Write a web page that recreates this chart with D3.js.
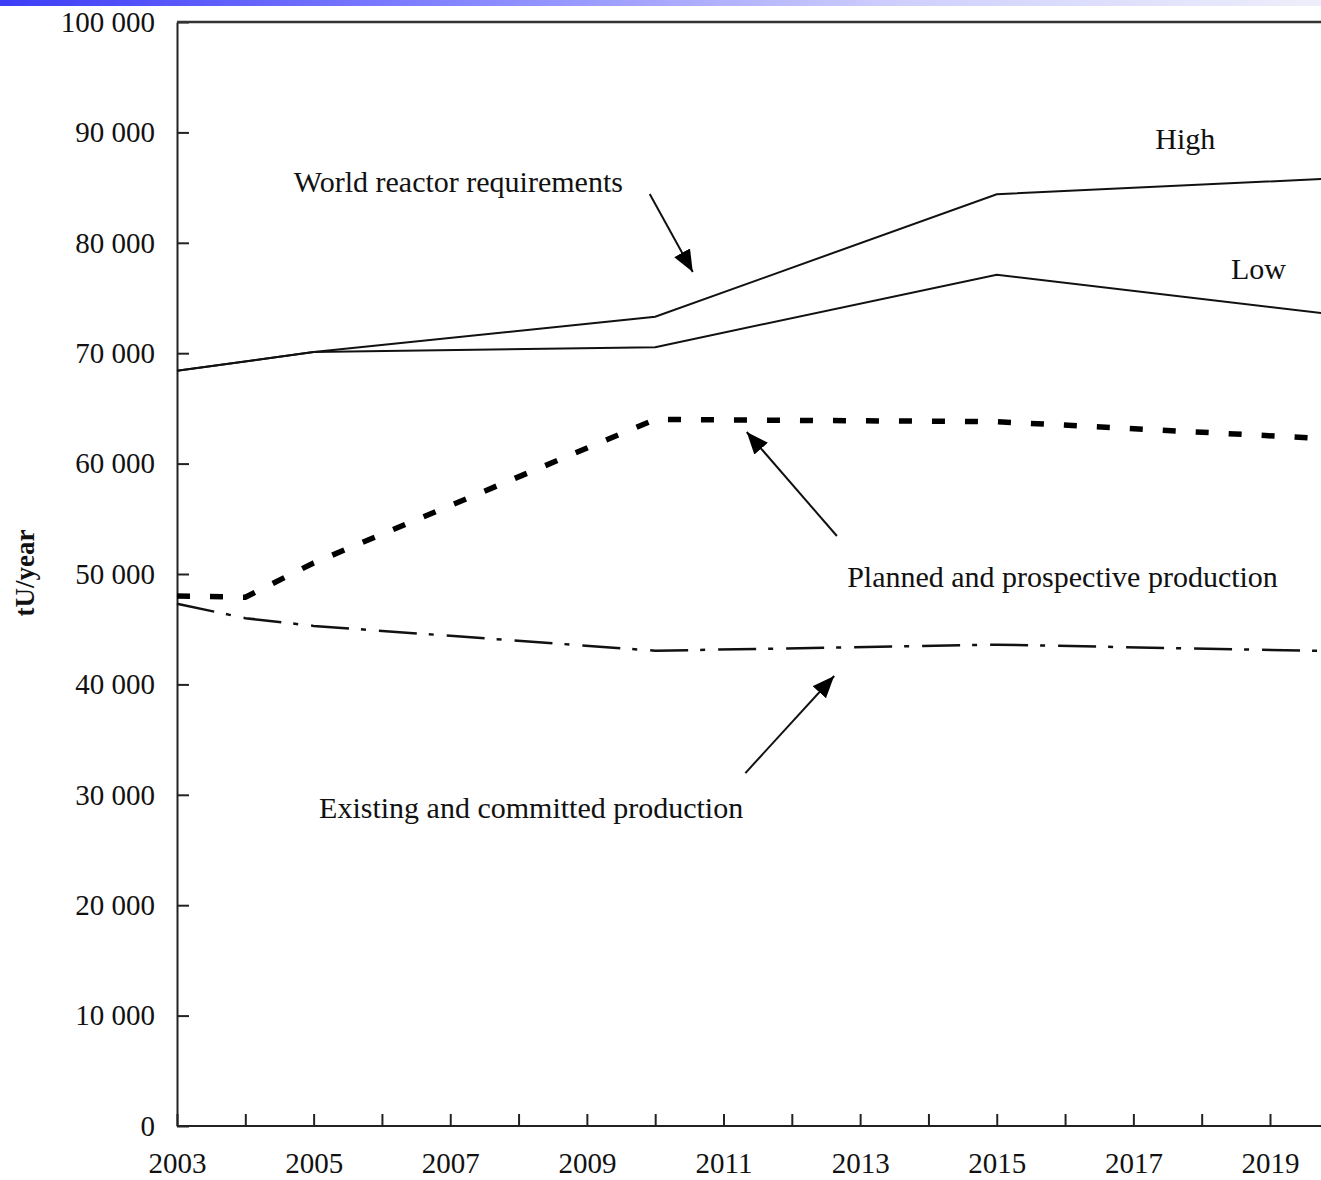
<!DOCTYPE html>
<html>
<head>
<meta charset="utf-8">
<script src="https://cdn.jsdelivr.net/npm/d3@7"></script>
<style>
  body { margin: 0; background: #fff; }
  svg { display: block; }
  text { font-family: "Liberation Serif", "Times New Roman", serif; fill: #111; }
</style>
</head>
<body>
<svg id="chart" width="1321" height="1180"></svg>
<script>
// World uranium requirements vs. production capability, tU/year
const reqYears = [2003, 2005, 2010, 2015, 2020];
const highRequirements = [68400, 70100, 73300, 84400, 85850];
const lowRequirements = [68400, 70100, 70550, 77100, 73450];

const prodYears = [2003, 2004, 2005, 2010, 2015, 2020];
const plannedProduction = [48000, 47900, 51000, 64000, 63800, 62200];
const existingProduction = [47300, 46000, 45300, 43050, 43600, 43000];

const xTickYears = d3.range(2003, 2020);
const yTickValues = d3.range(0, 100001, 10000);

// Annotation anchors in data units: [year, tU/year]
const labels = [
  { text: "World reactor requirements", at: [2004.71, 84600] },
  { text: "High", at: [2017.32, 88500] },
  { text: "Low", at: [2018.43, 76720] },
  { text: "Planned and prospective production", at: [2012.81, 48820] },
  { text: "Existing and committed production", at: [2005.08, 27900] }
];
const arrows = [
  { from: [2009.92, 84420], to: [2010.55, 77350] },
  { from: [2012.66, 53440], to: [2011.34, 62860] },
  { from: [2011.32, 31970], to: [2012.62, 40760] }
];

const svg = d3.select("#chart");
const W = 1321;

const x = d3.scaleLinear().domain([2003, 2020]).range([177, 177 + 17 * 68.3125]);
const y = d3.scaleLinear().domain([0, 100000]).range([1126, 22]);

// gradient band along the top edge
const defs = svg.append("defs");
const grad = defs.append("linearGradient").attr("id", "band").attr("x1", 0).attr("x2", 1).attr("y1", 0).attr("y2", 0);
[["0", "#3c3cf6"], ["0.3", "#7b7bff"], ["0.68", "#cfcffd"], ["1", "#eeeefb"]].forEach(([o, c]) =>
  grad.append("stop").attr("offset", o).attr("stop-color", c));
svg.append("rect").attr("x", 0).attr("y", 0).attr("width", W).attr("height", 6).attr("fill", "url(#band)");

defs.append("marker")
  .attr("id", "head")
  .attr("markerUnits", "userSpaceOnUse")
  .attr("markerWidth", 24).attr("markerHeight", 20)
  .attr("refX", 22).attr("refY", 9)
  .attr("orient", "auto")
  .append("path").attr("d", "M0,0 L22,9 L0,18 Z").attr("fill", "#000");

// axes
const fmt = d => d3.format(",")(d).replace(/,/g, " ");
const yAxis = svg.append("g").attr("transform", `translate(${x(2003)},0)`)
  .call(d3.axisLeft(y).tickValues(yTickValues).tickSizeInner(-12).tickSizeOuter(0).tickPadding(22).tickFormat(fmt));
const xAxis = svg.append("g").attr("transform", `translate(0,${y(0)})`)
  .call(d3.axisBottom(x).tickValues(xTickYears).tickSizeInner(-12).tickSizeOuter(0).tickPadding(26)
    .tickFormat(d => (d % 2 === 1 ? String(d) : "")));

[yAxis, xAxis].forEach(g => {
  g.select(".domain").attr("stroke", "#222").attr("stroke-width", 2);
  g.selectAll(".tick line").attr("stroke", "#222").attr("stroke-width", 2);
  g.selectAll(".tick text").attr("font-size", 29).attr("font-family", "Liberation Serif").attr("fill", "#111");
});
// x baseline and frame top continue across the full width
xAxis.select(".domain").attr("d", `M${x(2003)},0H${x(2020)}`);
svg.append("line").attr("x1", x(2003)).attr("x2", x(2020)).attr("y1", y(100000)).attr("y2", y(100000))
  .attr("stroke", "#333").attr("stroke-width", 2.5);

// y-axis title
svg.append("text")
  .attr("transform", "translate(28,573) rotate(-90)")
  .attr("text-anchor", "middle").attr("dominant-baseline", "middle")
  .attr("font-size", 27).attr("font-weight", "bold").text("tU/year");

// series
const line = d3.line().x(d => x(d[0])).y(d => y(d[1]));
const pairs = (xs, vs) => xs.map((t, i) => [t, vs[i]]);

svg.append("path").datum(pairs(reqYears, highRequirements)).attr("d", line)
  .attr("fill", "none").attr("stroke", "#111").attr("stroke-width", 2);
svg.append("path").datum(pairs(reqYears, lowRequirements)).attr("d", line)
  .attr("fill", "none").attr("stroke", "#111").attr("stroke-width", 2);
svg.append("path").datum(pairs(prodYears, plannedProduction)).attr("d", line)
  .attr("fill", "none").attr("stroke", "#000").attr("stroke-width", 5.5).attr("stroke-dasharray", "13 20");
svg.append("path").datum(pairs(prodYears, existingProduction)).attr("d", line)
  .attr("fill", "none").attr("stroke", "#111").attr("stroke-width", 2.5).attr("stroke-dasharray", "38 12 5 13");

// annotations
svg.append("g").selectAll("text").data(labels).join("text")
  .attr("x", d => x(d.at[0])).attr("y", d => y(d.at[1]))
  .attr("font-size", 30).text(d => d.text);

svg.append("g").selectAll("line").data(arrows).join("line")
  .attr("x1", d => x(d.from[0])).attr("y1", d => y(d.from[1]))
  .attr("x2", d => x(d.to[0])).attr("y2", d => y(d.to[1]))
  .attr("stroke", "#111").attr("stroke-width", 2)
  .attr("marker-end", "url(#head)");
</script>
</body>
</html>
